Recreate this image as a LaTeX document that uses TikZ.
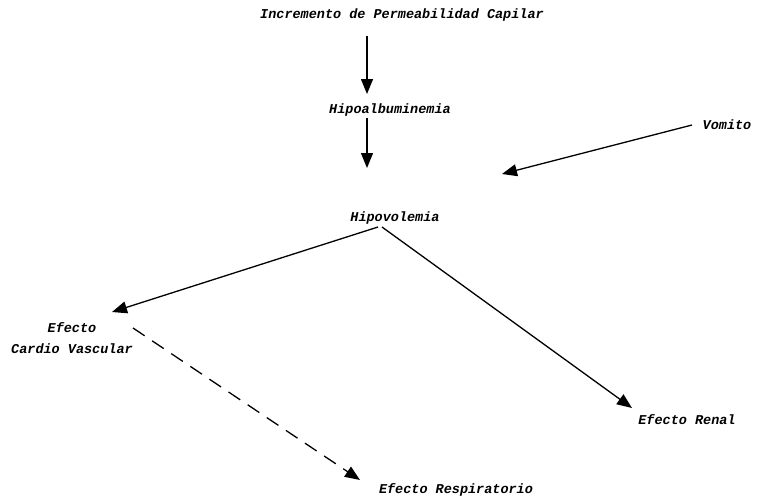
\documentclass[tikz,border=0pt]{standalone}
\usepackage{fontspec}
\setmonofont{Liberation Mono}
\usetikzlibrary{arrows.meta}
\tikzset{
    every node/.style={inner sep=1pt,
    	font=\ttfamily\itshape\bfseries\fontsize{13.5}{21}\selectfont}
}
\tikzset{
    every edge/.append style={line width=1.3pt,
    	-{Triangle[length=15pt,width=12pt]}}
}

\begin{document}
\begin{tikzpicture}[x=1pt, y=-1pt]
  \useasboundingbox (0,0) rectangle (758,499);
  \node (1) at (402,15) {Incremento de Permeabilidad Capilar};
  \node (2) at (390,110) {Hipoalbuminemia};
  \node (3) at (395,218) {Hipovolemia};
  \node (4) at (727,125) {Vomito};
  \node (5) [align=center] at (72,338) {Efecto\\Cardio Vascular};
  \node (6) at (687,420) {Efecto Renal};
  \node (7) at (456,490) {Efecto Respiratorio};

  \coordinate (1a) at (367,36);  \coordinate (2a) at (367,94);
  \coordinate (2b) at (367,118); \coordinate (3a) at (367,168);
  \coordinate (4a) at (692,125); \coordinate (4b) at (502,174);
  \coordinate (3l) at (378,227); \coordinate (3r) at (382,227);
  \coordinate (5a) at (112,312); \coordinate (5b) at (133,328);
  \coordinate (6a) at (632,408); \coordinate (7a) at (360,480);

  \draw (1a) edge (2a); \draw (2b) edge (3a);
  \draw (4a) edge (4b); \draw (3l) edge (5a);
  \draw (3r) edge (6a);
  \draw (5b) edge [dashed, dash pattern=on 14pt off 9pt] (7a);
\end{tikzpicture}
\end{document}
